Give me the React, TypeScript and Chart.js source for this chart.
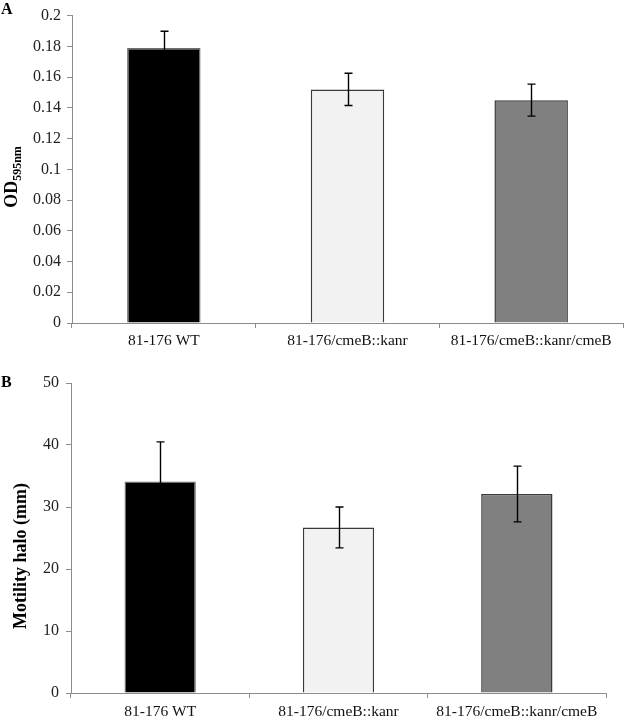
import React, { useEffect, useRef } from 'react';
import { Chart, registerables } from 'chart.js';

Chart.register(...registerables);

const FONT = '"Liberation Serif", "Times New Roman", serif';

const categories = ['81-176 WT', '81-176/cmeB::kanr', '81-176/cmeB::kanr/cmeB'];
const barColors = ['#000000', '#f2f2f2', '#808080'];
const barBorders = ['#6f6f6f', '#3a3a3a', '#3a3a3a'];

const odMeans = [0.179, 0.152, 0.145];
const odErrors = [0.0108, 0.0105, 0.0104];
const odTickLabels = ['0', '0.02', '0.04', '0.06', '0.08', '0.1', '0.12', '0.14', '0.16', '0.18', '0.2'];

const motMeans = [34.1, 26.7, 32.1];
const motErrors = [6.4, 3.3, 4.5];
const motTickLabels = ['0', '10', '20', '30', '40', '50'];

const errorBarPlugin = {
  id: 'errorBars',
  afterDatasetsDraw(chart: any, _args: any, opts: any) {
    const { ctx } = chart;
    const meta = chart.getDatasetMeta(0);
    const ys = chart.scales.y;
    const means: number[] = opts.means || [];
    const errs: number[] = opts.errors || [];
    ctx.save();
    ctx.strokeStyle = '#000';
    ctx.lineWidth = 1.4;
    meta.data.forEach((bar: any, i: number) => {
      const x = Math.round(bar.x) + 0.5;
      const top = ys.getPixelForValue(means[i] + errs[i]);
      const bot = ys.getPixelForValue(means[i] - errs[i]);
      ctx.beginPath();
      ctx.moveTo(x, top);
      ctx.lineTo(x, bot);
      ctx.moveTo(x - 4, top);
      ctx.lineTo(x + 4, top);
      ctx.moveTo(x - 4, bot);
      ctx.lineTo(x + 4, bot);
      ctx.stroke();
    });
    ctx.restore();
  },
};

const labelsPlugin = {
  id: 'panelLabels',
  afterDraw(chart: any, _args: any, opts: any) {
    const { ctx } = chart;
    ctx.save();
    ctx.fillStyle = '#000';
    ctx.font = `bold 16px ${FONT}`;
    ctx.textBaseline = 'alphabetic';
    ctx.textAlign = 'left';
    ctx.fillText(opts.letter, 1, opts.letterY);
    ctx.translate(opts.titleX, 0);
    ctx.rotate(-Math.PI / 2);
    if (opts.sub) {
      ctx.font = `bold 18px ${FONT}`;
      const w1 = ctx.measureText(opts.title).width;
      ctx.font = `bold 12px ${FONT}`;
      const w2 = ctx.measureText(opts.sub).width;
      const total = w1 + w2;
      const cy = opts.titleCenterY;
      const start = -(cy + total / 2);
      ctx.font = `bold 18px ${FONT}`;
      ctx.fillText(opts.title, start, 0);
      ctx.font = `bold 12px ${FONT}`;
      ctx.fillText(opts.sub, start + w1, 4);
    } else {
      ctx.font = `bold 18px ${FONT}`;
      ctx.textAlign = 'center';
      ctx.fillText(opts.title, -opts.titleCenterY, 0);
    }
    ctx.restore();
  },
};

function makeConfig(p: any) {
  return {
    type: 'bar',
    data: {
      labels: categories,
      datasets: [
        {
          data: p.means,
          backgroundColor: barColors,
          borderColor: barBorders,
          borderWidth: 1.5,
          barPercentage: 0.4,
          categoryPercentage: 1,
        },
      ],
    },
    options: {
      responsive: false,
      animation: false,
      devicePixelRatio: 1,
      layout: { padding: p.padding },
      plugins: {
        legend: { display: false },
        tooltip: { enabled: false },
        errorBars: { means: p.means, errors: p.errors },
        panelLabels: p.labels,
      },
      scales: {
        x: {
          offset: true,
          grid: { display: true, drawOnChartArea: false, drawTicks: true, tickLength: 5, color: '#8c8c8c', offset: true },
          border: { display: true, color: '#8c8c8c', width: 1 },
          ticks: { color: '#111', font: { family: FONT, size: 15.5 }, padding: p.xPad, maxRotation: 0, autoSkip: false },
          afterFit: (s: any) => { s.height = p.xHeight; },
        },
        y: {
          min: 0,
          max: p.max,
          ticks: {
            stepSize: p.step,
            color: '#222',
            font: { family: FONT, size: 16 },
            padding: p.yPad,
            callback: (_v: any, i: number) => p.tickLabels[i],
          },
          grid: { display: true, drawOnChartArea: false, drawTicks: true, tickLength: 5, color: '#8c8c8c' },
          border: { display: true, color: '#8c8c8c', width: 1 },
          afterFit: (s: any) => { s.width = p.yWidth; },
        },
      },
    },
    plugins: [errorBarPlugin, labelsPlugin],
  };
}

export default function App() {
  const refA = useRef<HTMLCanvasElement>(null);
  const refB = useRef<HTMLCanvasElement>(null);

  useEffect(() => {
    const a = new Chart(refA.current as any, makeConfig({
      means: odMeans,
      errors: odErrors,
      tickLabels: odTickLabels,
      max: 0.2,
      step: 0.02,
      padding: { top: 12, left: 0, right: 2, bottom: 0 },
      xHeight: 37,
      xPad: 4,
      yWidth: 72,
      yPad: 6,
      labels: { letter: 'A', letterY: 14, title: 'OD', sub: '595nm', titleX: 17, titleCenterY: 177 },
    }) as any);
    const b = new Chart(refB.current as any, makeConfig({
      means: motMeans,
      errors: motErrors,
      tickLabels: motTickLabels,
      max: 50,
      step: 10,
      padding: { top: 23, left: 0, right: 19, bottom: 0 },
      xHeight: 25,
      xPad: 5,
      yWidth: 71,
      yPad: 7,
      labels: { letter: 'B', letterY: 27, title: 'Motility halo (mm)', sub: '', titleX: 26, titleCenterY: 196 },
    }) as any);
    return () => {
      a.destroy();
      b.destroy();
    };
  }, []);

  return (
    <div style={{ position: 'fixed', left: 0, top: 0, width: 625, height: 718, overflow: 'hidden', background: '#fff' }}>
      <canvas ref={refA} width={625} height={360} style={{ position: 'absolute', left: 0, top: 0 }} />
      <canvas ref={refB} width={625} height={358} style={{ position: 'absolute', left: 0, top: 360 }} />
    </div>
  );
}
